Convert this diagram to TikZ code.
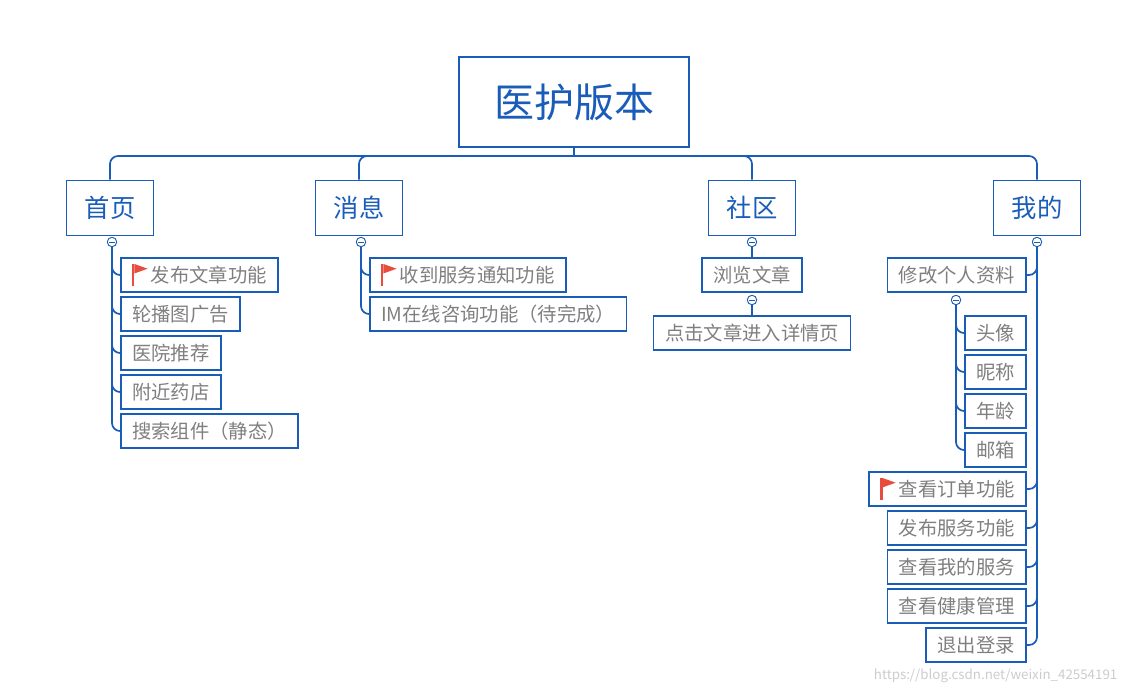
\documentclass[tikz,border=0pt]{standalone}
\usepackage{fontspec}
\setmainfont{Noto Sans CJK SC}
\usetikzlibrary{positioning}
\definecolor{mapblue}{HTML}{1A5DB8}
\definecolor{leafgray}{HTML}{7F7F7F}
\definecolor{flagred}{HTML}{E84C3D}
\newcommand{\redflag}{\tikz[baseline=-1pt]{\fill[flagred] (0,-0.5ex) rectangle (0.12em,1.6ex); \fill[flagred] (0.12em,1.6ex) -- (0.8em,1.15ex) -- (0.12em,0.7ex) -- cycle;}\,}
\tikzset{
  root/.style={draw=mapblue, line width=1.6pt, text=mapblue, font=\fontsize{30}{32}\selectfont,
    minimum width=172.5pt, minimum height=67.5pt},
  topic/.style={draw=mapblue, line width=1.3pt, text=mapblue, font=\fontsize{19}{21}\selectfont,
    minimum width=65.25pt, minimum height=41.25pt},
  leaf/.style={draw=mapblue, line width=1.2pt, text=leafgray, font=\fontsize{14.5}{16}\selectfont,
    minimum height=25.5pt, inner xsep=8.5pt, inner ysep=0pt},
  fold/.style={circle, draw=mapblue, fill=white, line width=0.6pt, minimum size=7pt, inner sep=0pt,
    path picture={\draw[mapblue, line width=0.5pt] ([xshift=-2pt]path picture bounding box.center) -- ([xshift=2pt]path picture bounding box.center);}},
  link/.style={draw=mapblue, line width=1.3pt, rounded corners=6pt}
}
\begin{document}
\begin{tikzpicture}[x=0.75pt, y=-0.75pt]
  \useasboundingbox (0,0) rectangle (1127,693);
  % main topic and branches
  \node[root] (root) at (574,102) {医护版本};
  \node[topic] (home) at (110,208) {首页};
  \node[topic] (msg) at (359,208) {消息};
  \node[topic] (club) at (752,208) {社区};
  \node[topic] (mine) at (1037,208) {我的};
  \coordinate (bus) at (574,156);
  \draw[link] (root.south) -- (bus);
  \foreach \t in {home,msg,club,mine}
    \draw[link] (bus) -| (\t.north);

  % 首页
  \node[fold] (homefold) at (112,242) {};
  \node[leaf, anchor=west] (h1) at (120,275) {\redflag 发布文章功能};
  \node[leaf, anchor=west] (h2) at (120,314) {轮播图广告};
  \node[leaf, anchor=west] (h3) at (120,353) {医院推荐};
  \node[leaf, anchor=west] (h4) at (120,392) {附近药店};
  \node[leaf, anchor=west] (h5) at (120,431) {搜索组件（静态）};
  \foreach \i in {1,...,5}
    \draw[link] (homefold) |- (h\i.west);

  % 消息
  \node[fold] (msgfold) at (361,242) {};
  \node[leaf, anchor=west] (m1) at (369,275) {\redflag 收到服务通知功能};
  \node[leaf, anchor=west] (m2) at (369,314) {IM在线咨询功能（待完成）};
  \foreach \i in {1,2}
    \draw[link] (msgfold) |- (m\i.west);

  % 社区
  \node[fold] (clubfold) at (752,242) {};
  \node[leaf] (c1) at (752,275) {浏览文章};
  \node[fold] (c1fold) at (752,300) {};
  \node[leaf] (c2) at (752,333) {点击文章进入详情页};
  \draw[link] (clubfold) -- (c1);
  \draw[link] (c1fold) -- (c2);

  % 我的
  \node[fold] (minefold) at (1037,242) {};
  \node[leaf, anchor=east] (p1) at (1027,275) {修改个人资料};
  \node[fold] (p1fold) at (956,300) {};
  \node[leaf, anchor=west] (q1) at (964,333) {头像};
  \node[leaf, anchor=west] (q2) at (964,372) {昵称};
  \node[leaf, anchor=west] (q3) at (964,411) {年龄};
  \node[leaf, anchor=west] (q4) at (964,450) {邮箱};
  \node[leaf, anchor=east] (p2) at (1027,489) {\redflag 查看订单功能};
  \node[leaf, anchor=east] (p3) at (1027,528) {发布服务功能};
  \node[leaf, anchor=east] (p4) at (1027,567) {查看我的服务};
  \node[leaf, anchor=east] (p5) at (1027,606) {查看健康管理};
  \node[leaf, anchor=east] (p6) at (1027,645) {退出登录};
  \foreach \i in {1,...,6}
    \draw[link] (minefold) |- (p\i.east);
  \foreach \i in {1,...,4}
    \draw[link] (p1fold) |- (q\i.west);
  \foreach \f in {homefold,msgfold,clubfold,c1fold,minefold,p1fold}
    \node[fold] at (\f) {};

  \node[anchor=east, text=black!20, font=\fontsize{10}{12}\selectfont] (mark) at (1122,676) {https://blog.csdn.net/weixin\_42554191};
\end{tikzpicture}
\end{document}
